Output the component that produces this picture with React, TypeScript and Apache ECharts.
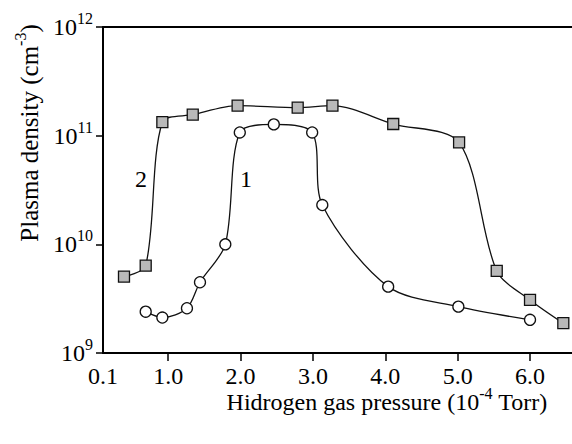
import React, { useEffect, useRef } from 'react';
import * as echarts from 'echarts';

const xLabelValues = [0.1, 1, 2, 3, 4, 5, 6];
const xTickValues = [1, 2, 3, 4, 5, 6];
const curve1X = [0.69, 0.92, 1.26, 1.44, 1.79, 1.99, 2.46, 2.99, 3.13, 4.04, 5.01, 6.0];
const curve1Y = [2.4e9, 2.12e9, 2.58e9, 4.48e9, 1.0e10, 1.07e11, 1.27e11, 1.07e11, 2.3e10, 4.08e9, 2.67e9, 2.02e9];
const curve2X = [0.39, 0.69, 0.92, 1.34, 1.96, 2.79, 3.27, 4.11, 5.02, 5.54, 6.0, 6.46];
const curve2Y = [5.05e9, 6.37e9, 1.33e11, 1.56e11, 1.89e11, 1.81e11, 1.89e11, 1.28e11, 8.66e10, 5.69e9, 3.08e9, 1.88e9];
const curveNames = ['1', '2'];

const FONT = "'Liberation Serif', 'DejaVu Serif', serif";

export default function App() {
  const ref = useRef<HTMLDivElement>(null);
  useEffect(() => {
    if (!ref.current) return;
    const chart = echarts.init(ref.current, null, { renderer: 'svg' });
    const supRich = {
      s: { fontSize: 16, fontFamily: FONT, color: '#000', padding: [0, 0, 17, 0] },
    };
    const option: any = {
      animation: false,
      backgroundColor: '#fff',
      grid: { left: 103, right: 0, top: 27, bottom: 91, containLabel: false },
      xAxis: [
        {
          type: 'value',
          position: 'bottom',
          min: 0.1,
          max: 6.58,
          axisLine: { show: true, onZero: false, lineStyle: { color: '#000', width: 2 } },
          axisTick: { show: true, customValues: xTickValues, length: 8, lineStyle: { color: '#000', width: 1.5 } },
          axisLabel: {
            customValues: xLabelValues,
            formatter: (v: number) => (Math.abs(v - 0.1) < 1e-6 ? '0.1' : v.toFixed(1)),
            fontSize: 24,
            fontFamily: FONT,
            color: '#000',
            margin: 11,
          },
          splitLine: { show: false },
        },
        {
          type: 'value',
          position: 'top',
          min: 0.1,
          max: 6.58,
          axisLine: { show: true, onZero: false, lineStyle: { color: '#000', width: 2 } },
          axisTick: { show: false },
          axisLabel: { show: false },
          splitLine: { show: false },
        },
      ],
      yAxis: {
        type: 'log',
        logBase: 10,
        min: 1e9,
        max: 1e12,
        axisLine: { show: true, onZero: false, lineStyle: { color: '#000', width: 2 } },
        axisTick: { show: true, length: 7, lineStyle: { color: '#000', width: 1.5 } },
        axisLabel: {
          formatter: (v: number) => `{b|10}{s|${Math.round(Math.log10(v))}}`,
          margin: 10,
          rich: {
            b: { fontSize: 24, fontFamily: FONT, color: '#000' },
            ...supRich,
          },
        },
        splitLine: { show: false },
        minorTick: { show: false },
      },
      series: [
        {
          type: 'line',
          name: curveNames[0],
          data: curve1X.map((x, i) => [x, curve1Y[i]]),
          smooth: 0.3,
          symbol: 'circle',
          symbolSize: 11,
          lineStyle: { color: '#111', width: 1.3 },
          itemStyle: { color: '#fff', borderColor: '#111', borderWidth: 1.3 },
        },
        {
          type: 'line',
          name: curveNames[1],
          data: curve2X.map((x, i) => [x, curve2Y[i]]),
          smooth: 0.3,
          symbol: 'rect',
          symbolSize: 11,
          lineStyle: { color: '#111', width: 1.3 },
          itemStyle: { color: '#b9b9b9', borderColor: '#111', borderWidth: 1.3 },
        },
      ],
      graphic: [
        {
          type: 'text',
          x: 29,
          y: 133,
          rotation: Math.PI / 2,
          style: {
            text: 'Plasma density (cm{s|-3})',
            fontSize: 25,
            fontFamily: FONT,
            fill: '#000',
            align: 'center',
            verticalAlign: 'middle',
            rich: supRich,
          },
        },
        {
          type: 'text',
          x: 387,
          y: 402,
          style: {
            text: 'Hidrogen gas pressure (10{s|-4} Torr)',
            fontSize: 24,
            fontFamily: FONT,
            fill: '#000',
            align: 'center',
            verticalAlign: 'middle',
            rich: supRich,
          },
        },
        {
          type: 'text',
          x: 141,
          y: 179,
          style: { text: curveNames[1], fontSize: 24, fontFamily: FONT, fill: '#000', align: 'center', verticalAlign: 'middle' },
        },
        {
          type: 'text',
          x: 246,
          y: 179,
          style: { text: curveNames[0], fontSize: 24, fontFamily: FONT, fill: '#000', align: 'center', verticalAlign: 'middle' },
        },
      ],
    };
    chart.setOption(option);
    return () => chart.dispose();
  }, []);
  return (
    <div
      ref={ref}
      style={{ position: 'absolute', left: 0, top: 0, width: 572, height: 444, background: '#fff' }}
    />
  );
}
